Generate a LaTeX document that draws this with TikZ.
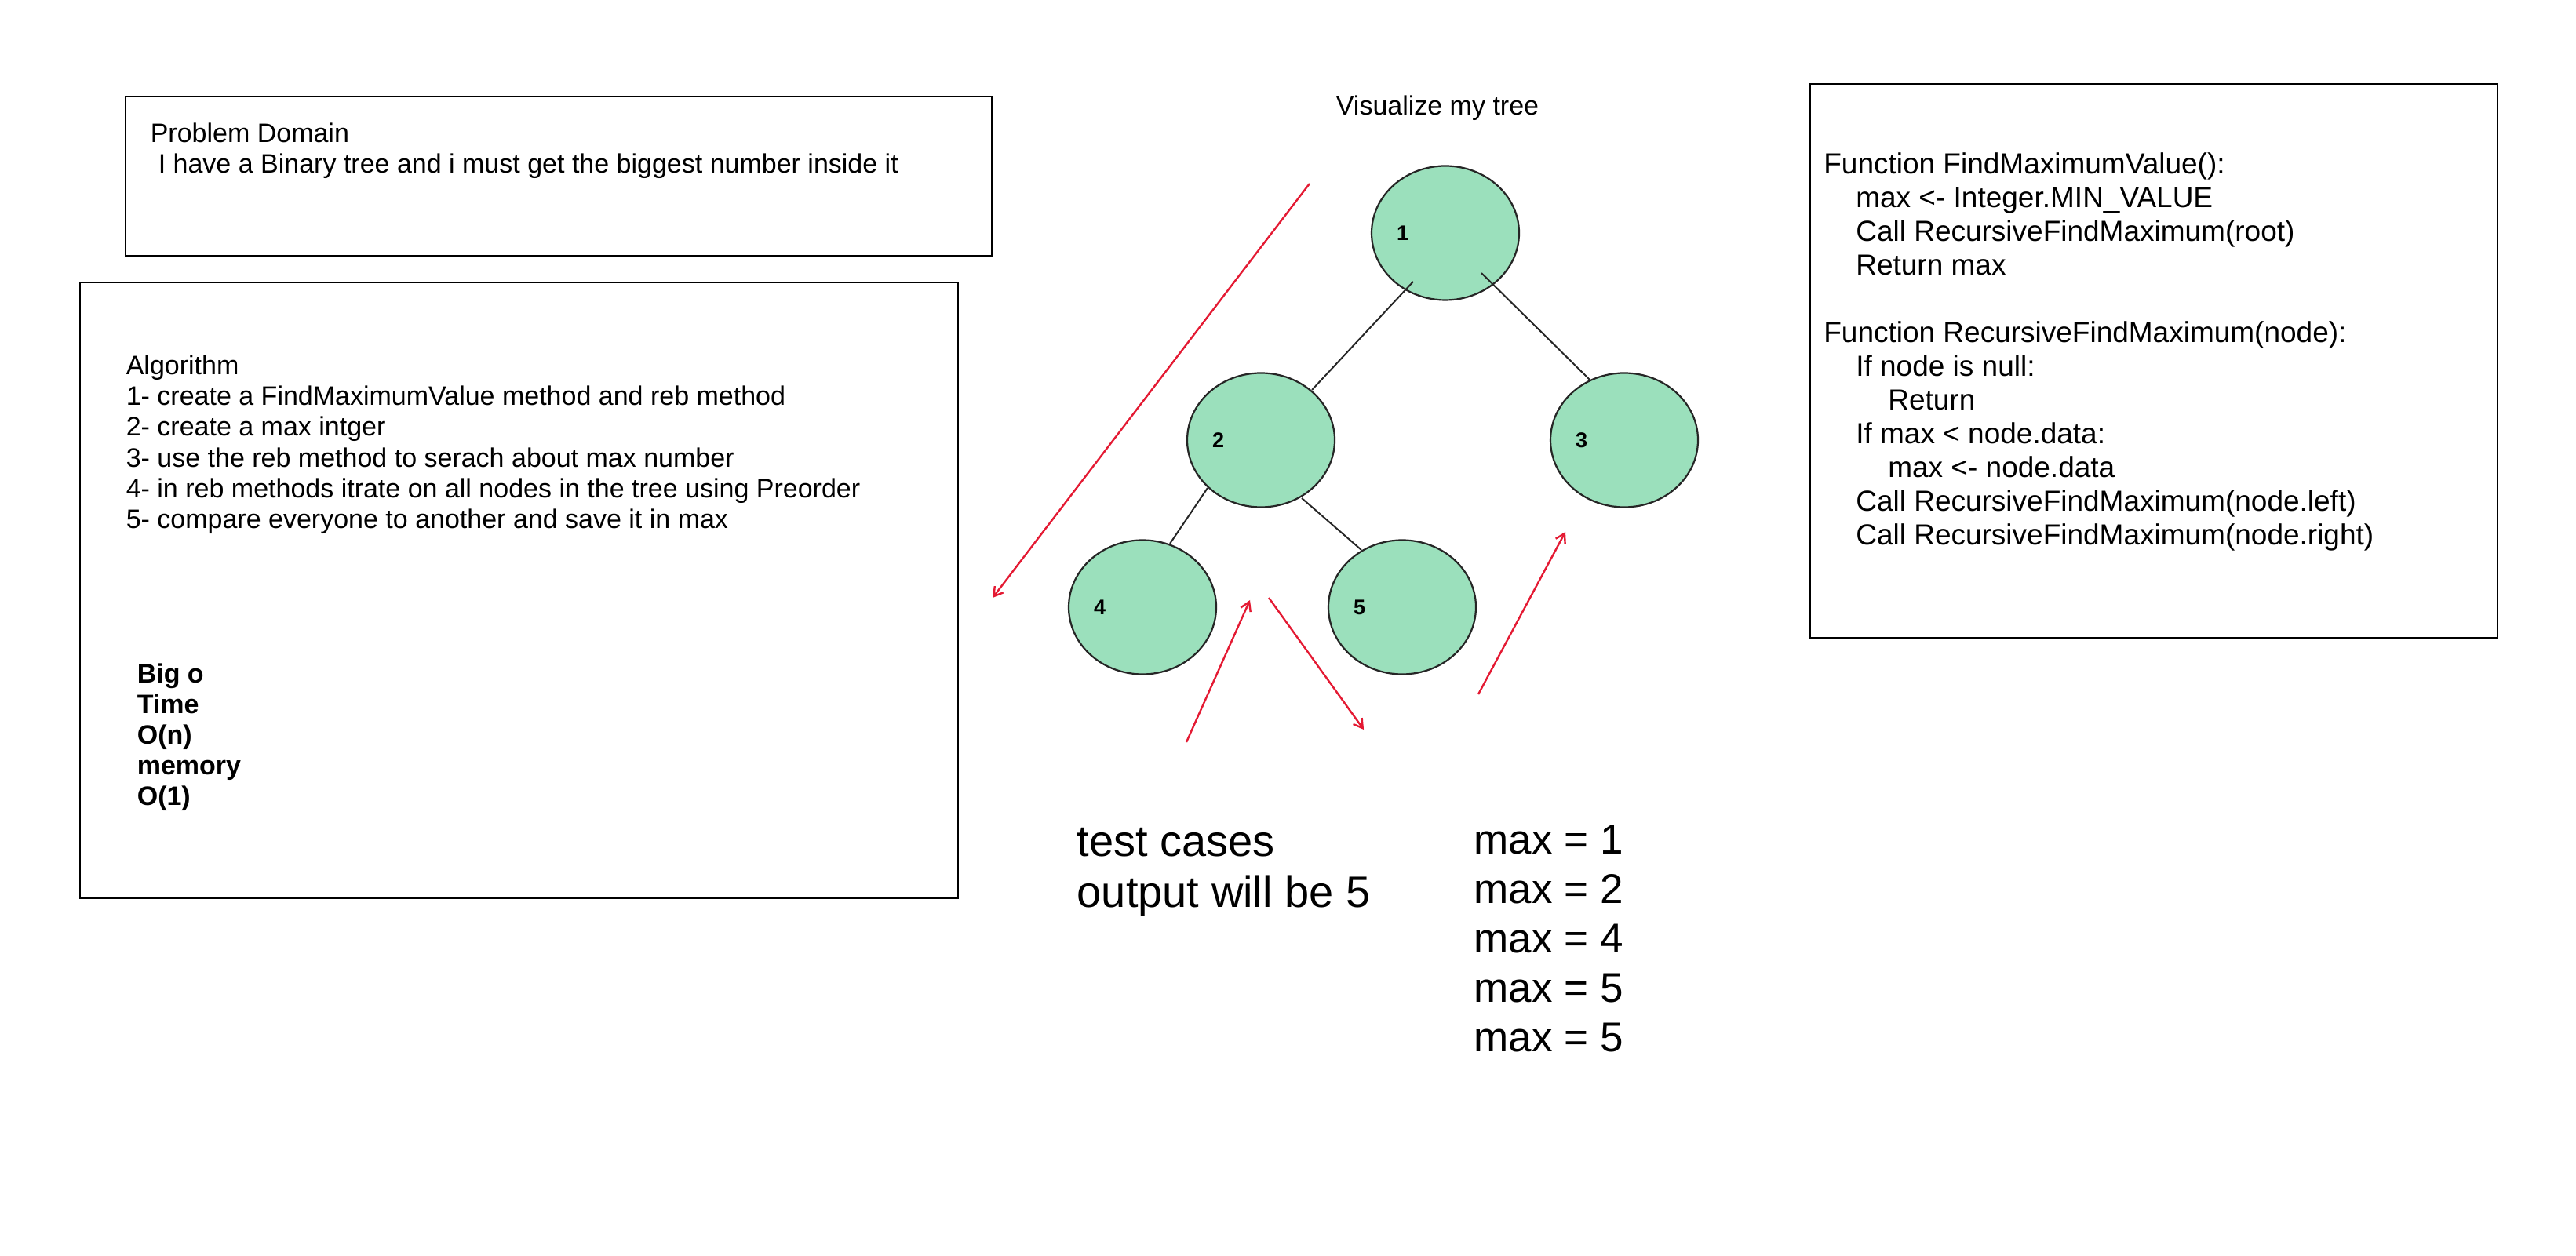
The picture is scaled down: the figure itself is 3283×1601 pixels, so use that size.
\documentclass[tikz,border=0pt]{standalone}
\usepackage{fontspec}
\setmainfont{Liberation Sans}
\usetikzlibrary{arrows.meta,calc,shapes.geometric}
\definecolor{nodegreen}{RGB}{155,224,188}
\definecolor{arrowred}{RGB}{228,26,51}
\begin{document}
\begin{tikzpicture}[x=0.25pt,y=-0.25pt,
  box/.style={draw=black,line width=0.5pt,fill=white,inner sep=0pt,anchor=north west},
  treenode/.style={ellipse,draw=black!85,line width=0.55pt,fill=nodegreen,
    minimum width=47pt,minimum height=42.75pt,inner sep=0pt},
  nlabel/.style={font=\fontsize{6.75pt}{8pt}\selectfont\bfseries},
  edge/.style={draw=black!85,line width=0.5pt},
  redarrow/.style={draw=arrowred,line width=0.6pt,-{Straight Barb[length=2.8pt,width=3.4pt]}},
  body/.style={inner sep=0pt,anchor=base west,align=left,font=\fontsize{8.5pt}{9.8pt}\selectfont},
  code/.style={inner sep=0pt,anchor=base west,align=left,font=\fontsize{9.25pt}{10.75pt}\selectfont},
  big/.style={inner sep=0pt,anchor=base west,align=left,font=\fontsize{14pt}{16.5pt}\selectfont},
  bigmax/.style={inner sep=0pt,anchor=base west,align=left,font=\fontsize{13.25pt}{15.75pt}\selectfont}]
\useasboundingbox[fill=white] (0,0) rectangle (3283,1601);

% boxes
\node[box,minimum width=276pt,minimum height=50.75pt] (pbox) at (159,122) {};
\node[box,minimum width=279.75pt,minimum height=196.25pt] (abox) at (101,359) {};
\node[box,minimum width=219pt,minimum height=176.5pt] (cbox) at (2306,106) {};

% problem domain (anchored at the baseline of the last line)
\node[body] (ptext) at (191,220.7) {Problem Domain\\\hspace*{2.5pt}I have a Binary tree and i must get the biggest number inside it};

% algorithm
\node[body] (atext) at (160,673.5) {Algorithm\\
1- create a FindMaximumValue method and reb method\\
2- create a max intger\\
3- use the reb method to serach about max number\\
4- in reb methods itrate on all nodes in the tree using Preorder\\
5- compare everyone to another and save it in max};
\node[body,font=\fontsize{8.5pt}{9.8pt}\selectfont\bfseries] (bigo) at (174,1027) {Big o\\Time\\O(n)\\memory\\O(1)};

% code
\node[code] (ctext) at (2323.5,695) {Function FindMaximumValue():\\
\hspace*{10.25pt}max <- Integer.MIN\_VALUE\\
\hspace*{10.25pt}Call RecursiveFindMaximum(root)\\
\hspace*{10.25pt}Return max\\[10.75pt]
Function RecursiveFindMaximum(node):\\
\hspace*{10.25pt}If node is null:\\
\hspace*{20.5pt}Return\\
\hspace*{10.25pt}If max < node.data:\\
\hspace*{20.5pt}max <- node.data\\
\hspace*{10.25pt}Call RecursiveFindMaximum(node.left)\\
\hspace*{10.25pt}Call RecursiveFindMaximum(node.right)};

% title
\node[body,anchor=base] (title) at (1832,147) {Visualize my tree};

% tree
\node[treenode,label={[nlabel,xshift=-13.6pt]center:1}] (n1) at (1842,297) {};
\node[treenode,label={[nlabel,xshift=-13.6pt]center:2}] (n2) at (1607,561) {};
\node[treenode,label={[nlabel,xshift=-13.6pt]center:3}] (n3) at (2070,561) {};
\node[treenode,label={[nlabel,xshift=-13.6pt]center:4}] (n4) at (1456,774) {};
\node[treenode,label={[nlabel,xshift=-13.6pt]center:5}] (n5) at (1787,774) {};

\draw[edge] ($(n1)+(-41,62)$) -- ($(n2)+(65,-64)$);
\draw[edge] ($(n1)+(46,51)$) -- ($(n3)+(-44,-77)$);
\draw[edge] ($(n2)+(-68,61)$) -- ($(n4)+(35,-81)$);
\draw[edge] ($(n2)+(52,74)$) -- ($(n5)+(-52,-73)$);

% red arrows
\coordinate (a1s) at (1669,234);
\coordinate (a1e) at (1265,762);
\coordinate (a2s) at (1512,946);
\coordinate (a2e) at (1593,765);
\coordinate (a3s) at (1617,762);
\coordinate (a3e) at (1738,930);
\coordinate (a4s) at (1884,885);
\coordinate (a4e) at (1995,678);
\draw[redarrow] (a1s) -- (a1e);
\draw[redarrow] (a2s) -- (a2e);
\draw[redarrow] (a3s) -- (a3e);
\draw[redarrow] (a4s) -- (a4e);

% test cases
\node[big] (tcases) at (1372,1157) {test cases\\output will be 5};
\node[bigmax] (maxes) at (1878,1340) {max = 1\\max = 2\\max = 4\\max = 5\\max = 5};
\end{tikzpicture}
\end{document}
